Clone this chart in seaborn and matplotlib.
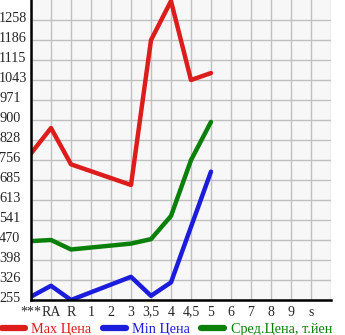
import numpy as np
import pandas as pd
import matplotlib
matplotlib.use("Agg")
import matplotlib.pyplot as plt
import matplotlib.transforms as mtransforms
import seaborn as sns
from matplotlib.lines import Line2D

categories = ["***", "RA", "R", "1", "2", "3", "3,5", "4", "4,5", "5", "6", "7", "8", "9", "s"]
max_price = [780, 871, 741, None, None, 667, 1186, 1326, 1043, 1068]
min_price = [267, 306, 255, None, None, 338, 270, 318, 517, 715]
avg_price = [466, 470, 436, None, None, 457, 473, 556, 756, 893]
y_ticks = [255, 326, 398, 470, 541, 613, 685, 756, 828, 900, 971, 1043, 1115, 1186, 1258]
series_names = ["Max Цена", "Min Цена", "Сред.Цена, т.йен"]
colors = ["#dd1c1c", "#1c1cdd", "#0a800a"]

sns.set_style("whitegrid")
plt.rcParams['font.family'] = ['Liberation Serif', 'DejaVu Serif']

fig = plt.figure(figsize=(3.45, 3.35), dpi=100)
ax = fig.add_axes([31/345, 1 - 300/335, 300/345, 300/335])
ax.set_facecolor("#f7f7f7")

for vals, name, col in zip([max_price, min_price, avg_price], series_names, colors):
    df = pd.DataFrame({"x": np.arange(len(vals)), "y": vals}).dropna()
    sns.lineplot(data=df, x="x", y="y", color=col, linewidth=3.2, ax=ax, sort=False,
                 legend=False, solid_capstyle="round")

ax.set_xlim(0, 15)
ax.set_ylim(255, 1258 + (1258 - 255) / 14)
ax.set_xticks(np.arange(len(categories)))
ax.set_xticklabels(categories)
ax.set_yticks(y_ticks)
ax.set_yticklabels([str(v) for v in y_ticks])
ax.set_xticks(np.arange(16), minor=True)
ax.grid(True, which="major", color="#c0c0c0", linewidth=1)
ax.grid(True, which="minor", axis="x", color="#c0c0c0", linewidth=1)
ax.set_xlabel("")
ax.set_ylabel("")
for s in ["top", "right"]:
    ax.spines[s].set_visible(False)
for s in ["left", "bottom"]:
    ax.spines[s].set_visible(True)
    ax.spines[s].set_color("black")
    ax.spines[s].set_linewidth(1.8)
ax.tick_params(axis="y", which="major", length=3, width=1, color="black", labelsize=10.3, pad=2)
ax.tick_params(axis="x", which="major", length=3, width=1, color="black", labelsize=10, pad=1)
ax.tick_params(axis="x", which="minor", length=3, width=1, color="black")
shift = mtransforms.ScaledTranslation(-25/100, 3/100, fig.dpi_scale_trans)
for lbl in ax.get_yticklabels():
    lbl.set_horizontalalignment("left")
    lbl.set_transform(lbl.get_transform() + shift)

handles = [Line2D([0], [0], color=c, linewidth=4.5, solid_capstyle="round") for c in colors]
leg = fig.legend(handles, series_names, loc="center left", bbox_to_anchor=(0.005, 6/335), ncol=3,
                 frameon=False, fontsize=10.3, handlelength=1.6, handletextpad=0.45,
                 columnspacing=0.8, borderaxespad=0, borderpad=0)
for t, c in zip(leg.get_texts(), colors):
    t.set_color(c)

fig.savefig("out.png", dpi=100)
